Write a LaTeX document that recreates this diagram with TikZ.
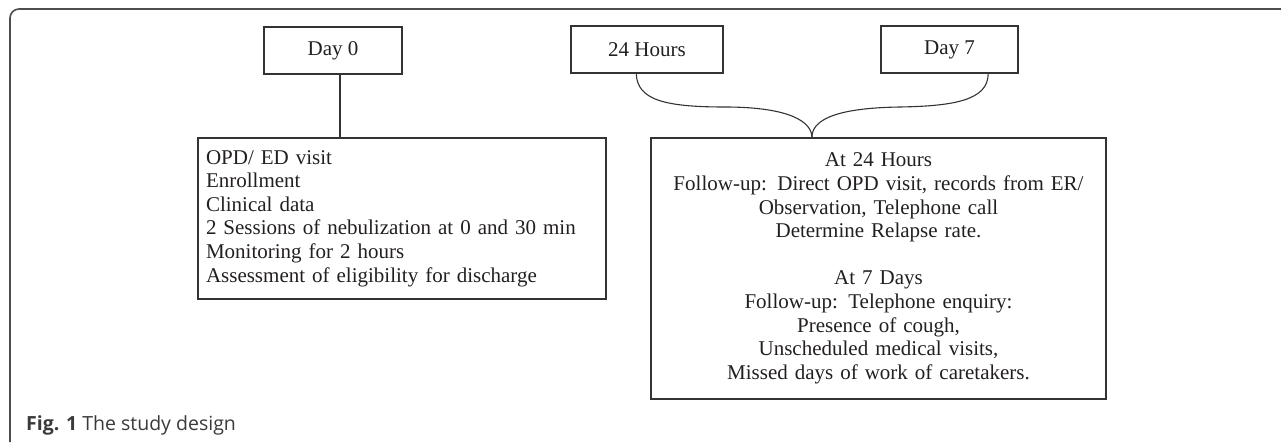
\documentclass[tikz,border=0pt]{standalone}
\usepackage{fontspec}
\setmainfont{Liberation Serif}
\setsansfont{Open Sans}
\usetikzlibrary{calc}
\definecolor{framegray}{HTML}{4D4D4D}
\definecolor{boxline}{HTML}{333333}
\definecolor{inktext}{HTML}{231F20}
\definecolor{capgray}{HTML}{3A3A3A}
\tikzset{
  daybox/.style={draw=boxline, line width=1.2pt, minimum height=47pt, inner sep=0pt,
    text=inktext, font=\fontsize{21}{23.6}\selectfont},
  infobox/.style={draw=boxline, line width=1.2pt, inner sep=8pt,
    text=inktext, font=\fontsize{21}{23.6}\selectfont},
  link/.style={draw=boxline, line width=1.1pt}
}

\begin{document}
\begin{tikzpicture}[x=1pt,y=-1pt]
\useasboundingbox (0,0) rectangle (1281,442);

%%% cadre
\draw[framegray, line width=1.6pt, rounded corners=9pt] (10,442) -- (10,9) -- (1281,9);

%%% dates
\node[daybox, minimum width=138pt] (day0) at (333,50.5) {Day 0};
\node[daybox, minimum width=152pt] (h24) at (647,49.5) {24 Hours};
\node[daybox, minimum width=137pt] (day7) at (949.5,49.5) {Day 7};

%%% contenu
\node[infobox, minimum width=408pt, minimum height=161pt, text width=392pt, align=left] (visit) at (402,218.5)
  {OPD/ ED visit\\
   Enrollment\\
   Clinical data\\
   2 Sessions of nebulization at 0 and 30 min\\
   Monitoring for 2 hours\\
   Assessment of eligibility for discharge};
\node[infobox, minimum width=455pt, minimum height=261pt, text width=439pt, align=center] (fup) at (878.5,268.5)
  {At 24 Hours\\
   Follow-up: Direct OPD visit, records from ER/\\
   Observation, Telephone call\\
   Determine Relapse rate.\\[23.6pt]
   At 7 Days\\
   Follow-up: Telephone enquiry:\\
   Presence of cough,\\
   Unscheduled medical visits,\\
   Missed days of work of caretakers.};

%%% liens
\coordinate (d0foot) at ($(day0.south)+(7,0)$);
\draw[link] (d0foot) -- (d0foot |- visit.north);

\coordinate (h24foot) at ($(h24.south west)!0.43!(h24.south east)$);
\coordinate (d7foot) at ($(day7.south west)!0.78!(day7.south east)$);
\coordinate (join) at ($(fup.north west)!0.354!(fup.north east)$);
\draw[link] (h24foot) .. controls (637,100) and (665,107) .. (725,107)
  .. controls (790,107) and (812,122) .. (join);
\draw[link] (d7foot) .. controls (988,100) and (955,106) .. (900,107)
  .. controls (830,108) and (812,122) .. (join);

%%% legende
\node[anchor=base west, inner sep=0pt, text=capgray, font=\sffamily\fontsize{19.5}{22}\selectfont] (caption) at (26,430.5)
  {\textbf{Fig. 1} The study design};
\end{tikzpicture}
\end{document}
